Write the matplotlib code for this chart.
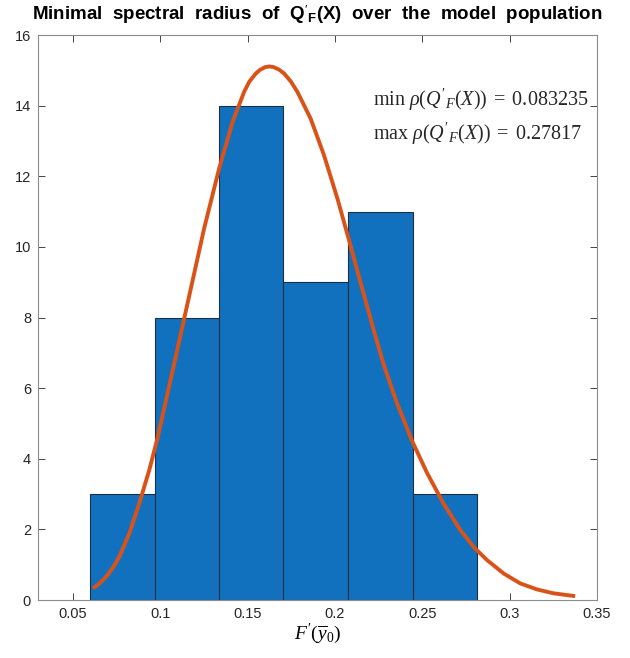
import numpy as np
import matplotlib
matplotlib.use("Agg")
from matplotlib import pyplot as plt

# histogram bins
bin_edges = [0.0600, 0.0970, 0.1337, 0.1705, 0.2074, 0.2444, 0.2814]
counts = [3, 8, 14, 9, 11, 3]

# fitted curve, points
curve_x = [0.0614, 0.0650, 0.0690, 0.0730, 0.0766, 0.0823, 0.0880, 0.0937,
           0.0985, 0.1033, 0.1080, 0.1118, 0.1175, 0.1251, 0.1337, 0.1414,
           0.1480, 0.1510, 0.1547, 0.1570, 0.1600, 0.1625, 0.1650, 0.1680,
           0.1709, 0.1748, 0.1785, 0.1861, 0.1937, 0.2014, 0.2080, 0.2147,
           0.2230, 0.2280, 0.2357, 0.2442, 0.2528, 0.2623, 0.2718, 0.2800,
           0.2871, 0.2966, 0.3061, 0.3157, 0.3251, 0.3375]
curve_y = [0.33, 0.46, 0.66, 0.92, 1.23, 1.89, 2.74, 3.68,
           4.60, 5.66, 6.70, 7.55, 8.82, 10.52, 12.22, 13.54,
           14.39, 14.68, 14.91, 15.01, 15.09, 15.11, 15.09, 15.02,
           14.91, 14.68, 14.39, 13.63, 12.60, 11.37, 10.20, 8.98,
           7.50, 6.65, 5.55, 4.50, 3.59, 2.72, 1.98, 1.47,
           1.13, 0.75, 0.47, 0.30, 0.19, 0.11]

rho_min = "0.083235"
rho_max = "0.27817"

plt.rcParams['mathtext.fontset'] = 'custom'
plt.rcParams['mathtext.rm'] = 'Liberation Serif'
plt.rcParams['mathtext.it'] = 'Liberation Serif:italic'
plt.rcParams['mathtext.bf'] = 'Liberation Sans:bold'
plt.rcParams['font.family'] = ['Liberation Sans', 'DejaVu Sans']

fig = plt.figure(figsize=(6.3, 6.58), dpi=100)
ax = fig.add_axes([0.0603, 0.0881, 0.8873, 0.8587])

ax.bar(bin_edges[:-1], counts, width=np.diff(bin_edges), align='edge',
       color='#1271BE', edgecolor='#1d2f42', linewidth=0.8, zorder=2)
ax.plot(curve_x, curve_y, color='#D95319', linewidth=2.8,
        solid_joinstyle='round', solid_capstyle='butt', zorder=3)

ax.set_xlim(0.03, 0.35)
ax.set_ylim(0, 16)
ax.set_xticks([0.05, 0.1, 0.15, 0.2, 0.25, 0.3, 0.35])
ax.set_xticklabels(['0.05', '0.1', '0.15', '0.2', '0.25', '0.3', '0.35'])
ax.set_yticks(range(0, 17, 2))
ax.tick_params(direction='in', top=True, right=True, length=5, width=0.6,
               colors='#262626', labelsize=10.5, pad=5)
for s in ax.spines.values():
    s.set_color('#8c8c8c')
    s.set_linewidth(0.8)

fig.text(0.503, 0.978,
         r"Minimal  spectral  radius  of  $\mathbf{Q}'_{\mathbf{F}}$(X)  over  the  model  population",
         fontsize=13.5, fontweight='bold', ha='center', va='center', color='black')
ax.set_xlabel(r"$F'(\overline{y}_0)$", fontsize=14, labelpad=1)

ax.text(0.2215, 14.15, r"$\min\ \rho(Q'_F(X))\;=\;%s$" % rho_min, fontsize=14.5,
        va='center', ha='left', color='#262626')
ax.text(0.2215, 13.2, r"$\max\ \rho(Q'_F(X))\;=\;%s$" % rho_max, fontsize=14.5,
        va='center', ha='left', color='#262626')

fig.savefig("out.png", dpi=100)
